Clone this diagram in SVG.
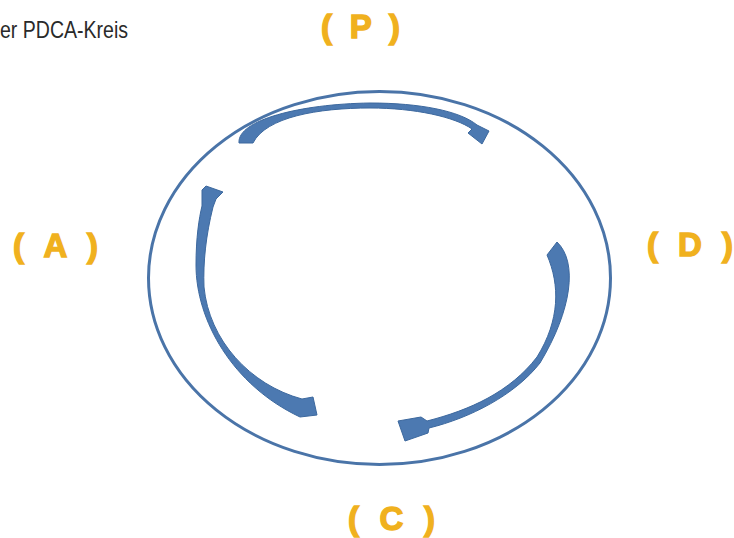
<svg xmlns="http://www.w3.org/2000/svg" width="734" height="538" viewBox="0 0 734 538">
<style>
.title{font-family:"Liberation Sans Narrow","Liberation Sans",sans-serif;font-size:24px;fill:#2a2a2a}
.lbl{font-family:"Liberation Sans",Arial,sans-serif;font-weight:bold;font-size:33px;fill:#F0B11E;stroke:#F0B11E;stroke-width:1.4}
.arr{fill:#4C79B1;stroke:#3C689E;stroke-width:1;stroke-linejoin:round}
.ring{fill:none;stroke:#4A74A8;stroke-width:3}
</style>
<rect width="734" height="538" fill="#fff"/>
<text class="title" x="0" y="38" textLength="128" lengthAdjust="spacingAndGlyphs">er PDCA-Kreis</text>
<g id="ring"><ellipse class="ring" cx="379.5" cy="278" rx="231" ry="186.5"/></g>
<g id="label-P"><text class="lbl" x="321" y="38" textLength="79" lengthAdjust="spacing">( P )</text></g>
<g id="label-A"><text class="lbl" x="13" y="257" textLength="85" lengthAdjust="spacing">( A )</text></g>
<g id="label-D"><text class="lbl" x="647" y="256" textLength="86" lengthAdjust="spacing">( D )</text></g>
<g id="label-C"><text class="lbl" x="348" y="530" textLength="87" lengthAdjust="spacing">( C )</text></g>
<g id="connectors">
<path id="arrow-P-D" class="arr" d="M239,143 C237,120 300,104 370,103 C420,103 460,111 477,125 L489,131 L482,144 L468,133 L472,129 C455,117 415,108 370,108 C318,108 266,117 253,143 Z"/>
<path id="arrow-D-C" class="arr" d="M557,242 C578,262 572,310 540,363 C515,395 470,418 429,428 L428,433 L405,441 L398,421 L421,417 L427,421 C470,410 510,392 537,357 C560,320 560,285 547,255 Z"/>
<path id="arrow-C-A" class="arr" d="M300,417 C232,385 196,320 196,265 C196,238 199,218 202,206 L202,190 L206,186 L223,192 L216,199 L213,207 C206,235 203,262 204,287 C209,340 250,385 302,399 L313,397 L317,415 Z"/>
</g>
</svg>
